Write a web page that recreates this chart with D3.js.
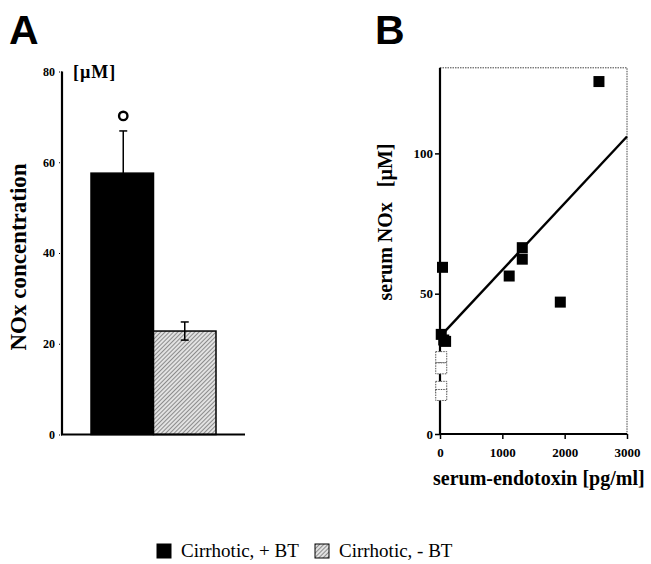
<!DOCTYPE html>
<html>
<head>
<meta charset="utf-8">
<script src="https://cdn.jsdelivr.net/npm/d3@7"></script>
<style>
  body { margin: 0; background: #fff; }
  svg { display: block; }
  text { font-family: "Liberation Serif", "DejaVu Serif", serif; }
</style>
</head>
<body>
<div id="chart"></div>
<script>
// panel A: mean NOx (µM) with SEM
var groups = ["Cirrhotic, + BT", "Cirrhotic, - BT"];
var groupMeans = [57.6, 22.8];
var groupErrUp = [9.3, 2.0];
var groupErrDown = [0, 2.0];
var ticksA = [0, 20, 40, 60, 80];

// panel B: endotoxin (pg/ml) vs serum NOx (µM)
var btX = [2550, 40, 1110, 1320, 1320, 1930, 20, 60, 90];
var btY = [125.6, 59.4, 56.3, 66.4, 62.3, 47.0, 35.5, 33.5, 33.0];
var noBtX = [20, 20, 20, 20];
var noBtY = [27.4, 23.4, 16.8, 13.9];
var fitX = [0, 3000];
var fitY = [34.7, 106];
var ticksBx = [0, 1000, 2000, 3000];
var ticksBy = [0, 50, 100];

var svg = d3.select("#chart").append("svg")
    .attr("width", 651)
    .attr("height", 564);

// hatch pattern for the - BT bar
var defs = svg.append("defs");
var pat = defs.append("pattern")
    .attr("id", "hatch")
    .attr("patternUnits", "userSpaceOnUse")
    .attr("width", 3).attr("height", 3)
    .attr("patternTransform", "rotate(45)");
pat.append("rect").attr("width", 3).attr("height", 3).attr("fill", "#e2e2e2");
pat.append("line")
    .attr("x1", 0).attr("y1", 0).attr("x2", 0).attr("y2", 3)
    .attr("stroke", "#444").attr("stroke-width", 1.1);

// ---------- panel A ----------
var yA = d3.scaleLinear().domain([0, 80]).range([434.5, 71.5]);
var xA = d3.scaleBand().domain(groups).range([91, 216]).paddingInner(0);
var colorsA = ["#000", "url(#hatch)"];

var gA = svg.append("g");

gA.append("text")
    .attr("x", 9).attr("y", 44)
    .style("font-family", "'Liberation Sans', Arial, sans-serif")
    .style("font-weight", "bold")
    .style("font-size", "41px")
    .text("A");

gA.selectAll(".bar")
    .data(groups)
  .enter().append("rect")
    .attr("class", "bar")
    .attr("x", function(d) { return xA(d); })
    .attr("y", function(d, i) { return yA(groupMeans[i]); })
    .attr("width", xA.bandwidth())
    .attr("height", function(d, i) { return yA(0) - yA(groupMeans[i]); })
    .attr("fill", function(d, i) { return colorsA[i]; })
    .attr("stroke", "#000")
    .attr("stroke-width", 1.5);

// error bars
groups.forEach(function(g, i) {
  var cx = xA(g) + xA.bandwidth() / 2 + (i === 0 ? 1 : 0);
  var top = yA(groupMeans[i] + groupErrUp[i]);
  var bot = yA(groupMeans[i] - groupErrDown[i]);
  gA.append("line")
      .attr("x1", cx).attr("x2", cx).attr("y1", top).attr("y2", i === 0 ? yA(groupMeans[i]) : bot)
      .attr("stroke", "#000").attr("stroke-width", 1.5);
  gA.append("line")
      .attr("x1", cx - 4).attr("x2", cx + 4).attr("y1", top).attr("y2", top)
      .attr("stroke", "#000").attr("stroke-width", 1.5);
  if (groupErrDown[i] > 0) {
    gA.append("line")
        .attr("x1", cx - 4).attr("x2", cx + 4).attr("y1", bot).attr("y2", bot)
        .attr("stroke", "#000").attr("stroke-width", 1.5);
  }
});

// significance mark
gA.append("circle")
    .attr("cx", xA(groups[0]) + xA.bandwidth() / 2 + 1)
    .attr("cy", yA(groupMeans[0] + groupErrUp[0]) - 15)
    .attr("r", 4.2)
    .attr("fill", "none")
    .attr("stroke", "#000")
    .attr("stroke-width", 2.4);

// axes A
var axisA = gA.append("g")
    .attr("transform", "translate(62,0)")
    .call(d3.axisLeft(yA).tickValues(ticksA).tickSize(3).tickPadding(4));
axisA.select(".domain").attr("stroke-width", 2.2).attr("d", "M0," + yA(80) + "V" + yA(0));
axisA.selectAll(".tick line").attr("stroke-dasharray", "1,1");
axisA.selectAll(".tick text")
    .style("font-size", "12px")
    .style("font-weight", "bold")
    .style("font-family", "'Liberation Serif', serif");

gA.append("line")
    .attr("x1", 61).attr("x2", 245)
    .attr("y1", yA(0)).attr("y2", yA(0))
    .attr("stroke", "#000").attr("stroke-width", 2.2);

gA.append("text")
    .attr("x", 73).attr("y", 78)
    .style("font-weight", "bold")
    .style("font-size", "18px")
    .style("letter-spacing", "1px")
    .text("[µM]");

gA.append("text")
    .attr("transform", "translate(26,257) rotate(-90)")
    .attr("text-anchor", "middle")
    .style("font-weight", "bold")
    .style("font-size", "23px")
    .text("NOx concentration");

// ---------- panel B ----------
var xB = d3.scaleLinear().domain([0, 3000]).range([440, 627]);
var yB = d3.scaleLinear().domain([0, 130.5]).range([434, 67.8]);

var gB = svg.append("g");

gB.append("text")
    .attr("x", 375).attr("y", 44)
    .style("font-family", "'Liberation Sans', Arial, sans-serif")
    .style("font-weight", "bold")
    .style("font-size", "41px")
    .text("B");

// frame: dotted top and right
gB.append("path")
    .attr("d", "M" + xB(0) + "," + yB(130.5) + "H" + xB(3000) + "V" + yB(0))
    .attr("fill", "none")
    .attr("stroke", "#444")
    .attr("stroke-width", 1)
    .attr("stroke-dasharray", "1.5,1");

var axisBx = gB.append("g")
    .attr("transform", "translate(0," + yB(0) + ")")
    .call(d3.axisBottom(xB).tickValues(ticksBx).tickSize(5).tickPadding(9).tickFormat(d3.format("d")));
axisBx.select(".domain").attr("stroke-width", 2.2).attr("d", "M" + xB(0) + ",0H" + xB(3000));
axisBx.selectAll(".tick line").attr("stroke-width", 1.5);
axisBx.selectAll(".tick text")
    .style("font-size", "13px")
    .style("font-weight", "bold");

var axisBy = gB.append("g")
    .attr("transform", "translate(" + xB(0) + ",0)")
    .call(d3.axisLeft(yB).tickValues(ticksBy).tickSize(5).tickPadding(2));
axisBy.select(".domain").attr("stroke-width", 2.2).attr("d", "M0," + yB(130.5) + "V" + yB(0));
axisBy.selectAll(".tick line").attr("stroke-width", 1.5);
axisBy.selectAll(".tick text")
    .style("font-size", "13px")
    .style("font-weight", "bold");

// regression line
gB.append("line")
    .attr("x1", xB(fitX[0])).attr("y1", yB(fitY[0]))
    .attr("x2", xB(fitX[1])).attr("y2", yB(fitY[1]))
    .attr("stroke", "#000")
    .attr("stroke-width", 2.4);

// - BT points (open dashed squares)
var sq = 11;
gB.selectAll(".open")
    .data(noBtX)
  .enter().append("rect")
    .attr("class", "open")
    .attr("x", function(d) { return xB(d) - sq / 2; })
    .attr("y", function(d, i) { return yB(noBtY[i]) - sq / 2; })
    .attr("width", sq).attr("height", sq)
    .attr("fill", "#fff")
    .attr("stroke", "#555")
    .attr("stroke-width", 1)
    .attr("stroke-dasharray", "1.5,1");

// + BT points (filled squares)
gB.selectAll(".filled")
    .data(btX)
  .enter().append("rect")
    .attr("class", "filled")
    .attr("x", function(d) { return xB(d) - sq / 2; })
    .attr("y", function(d, i) { return yB(btY[i]) - sq / 2; })
    .attr("width", sq).attr("height", sq)
    .attr("fill", "#000");

gB.append("text")
    .attr("transform", "translate(392,222) rotate(-90)")
    .attr("text-anchor", "middle")
    .attr("xml:space", "preserve")
    .style("font-weight", "bold")
    .style("font-size", "20px")
    .text("serum NOx   [µM]");

gB.append("text")
    .attr("x", 433).attr("y", 485)
    .style("font-weight", "bold")
    .style("font-size", "20px")
    .text("serum-endotoxin [pg/ml]");

// ---------- legend ----------
var legend = svg.append("g").attr("transform", "translate(157,544)");
var legendX = [0, 158];
groups.forEach(function(g, i) {
  var item = legend.append("g").attr("transform", "translate(" + legendX[i] + ",0)");
  item.append("rect")
      .attr("width", 14).attr("height", 14)
      .attr("fill", colorsA[i])
      .attr("stroke", "#000")
      .attr("stroke-width", 1);
  item.append("text")
      .attr("x", 24).attr("y", 13)
      .style("font-size", "19px")
      .text(g);
});
</script>
</body>
</html>
